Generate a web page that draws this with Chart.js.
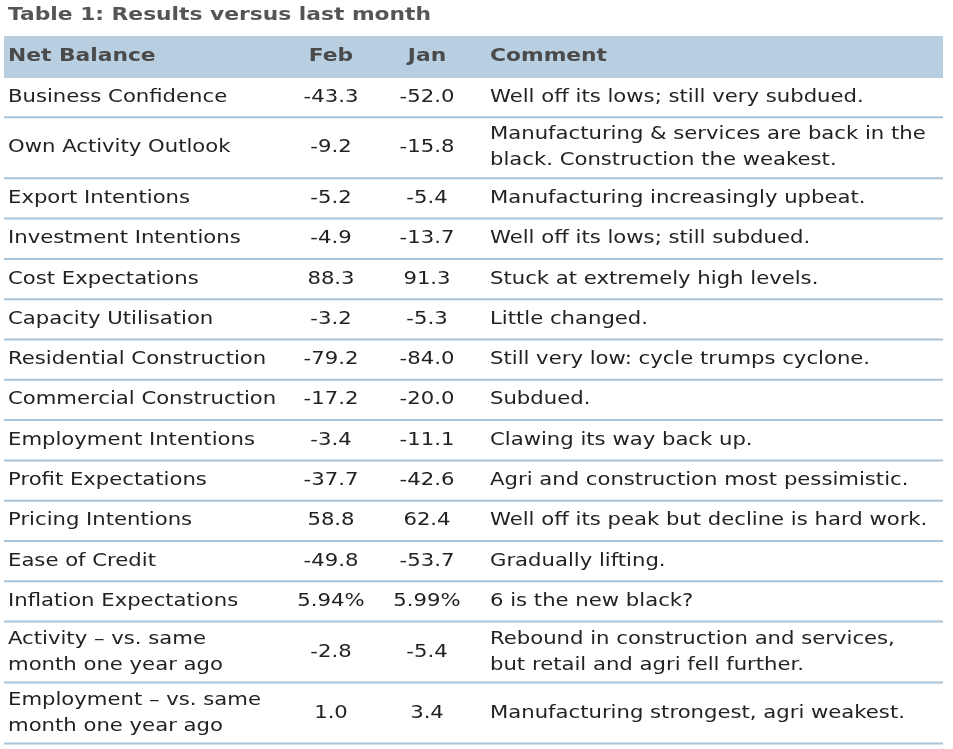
<!DOCTYPE html>
<html>
<head>
<meta charset="UTF-8">
<script src="https://cdn.jsdelivr.net/npm/chart.js"></script>
<style>
  html, body { margin: 0; padding: 0; background: #fff; }
  #wrap { width: 953px; height: 749px; }
</style>
</head>
<body>
<div id="wrap"><canvas id="tbl"></canvas></div>
<script>
const title = 'Table 1: Results versus last month';
const headers = ['Net Balance', 'Feb', 'Jan', 'Comment'];
const names = [
  ['Business Confidence'], ['Own Activity Outlook'], ['Export Intentions'],
  ['Investment Intentions'], ['Cost Expectations'], ['Capacity Utilisation'],
  ['Residential Construction'], ['Commercial Construction'], ['Employment Intentions'],
  ['Profit Expectations'], ['Pricing Intentions'], ['Ease of Credit'],
  ['Inflation Expectations'],
  ['Activity \u2013 vs. same', 'month one year ago'],
  ['Employment \u2013 vs. same', 'month one year ago']
];
const feb = ['-43.3', '-9.2', '-5.2', '-4.9', '88.3', '-3.2', '-79.2', '-17.2', '-3.4', '-37.7', '58.8', '-49.8', '5.94%', '-2.8', '1.0'];
const jan = ['-52.0', '-15.8', '-5.4', '-13.7', '91.3', '-5.3', '-84.0', '-20.0', '-11.1', '-42.6', '62.4', '-53.7', '5.99%', '-5.4', '3.4'];
const comments = [
  ['Well off its lows; still very subdued.'],
  ['Manufacturing & services are back in the', 'black. Construction the weakest.'],
  ['Manufacturing increasingly upbeat.'],
  ['Well off its lows; still subdued.'],
  ['Stuck at extremely high levels.'],
  ['Little changed.'],
  ['Still very low: cycle trumps cyclone.'],
  ['Subdued.'],
  ['Clawing its way back up.'],
  ['Agri and construction most pessimistic.'],
  ['Well off its peak but decline is hard work.'],
  ['Gradually lifting.'],
  ['6 is the new black?'],
  ['Rebound in construction and services,', 'but retail and agri fell further.'],
  ['Manufacturing strongest, agri weakest.']
];

const FONT = '"DejaVu Sans", Verdana, sans-serif';
const SX = 1.21; // widen glyphs to match Verdana-like reference

function txt(ctx, t, x, y, align) {
  const w = ctx.measureText(t).width * SX;
  let left = x;
  if (align === 'center') left = x - w / 2;
  ctx.save();
  ctx.translate(left, y);
  ctx.scale(SX, 1);
  ctx.textAlign = 'left';
  ctx.fillText(t, 0, 0);
  ctx.restore();
}

const tablePlugin = {
  id: 'tablePlugin',
  afterDraw(chart) {
    const ctx = chart.ctx;
    ctx.save();
    ctx.textBaseline = 'middle';
    ctx.fillStyle = '#555';
    ctx.font = 'bold 18px ' + FONT;
    txt(ctx, title, 8, 15, 'left');
    ctx.fillStyle = '#b8cfe1';
    ctx.fillRect(4, 36, 939, 42);
    ctx.fillStyle = '#4a4a4a';
    txt(ctx, headers[0], 8, 56, 'left');
    txt(ctx, headers[1], 331, 56, 'center');
    txt(ctx, headers[2], 427, 56, 'center');
    txt(ctx, headers[3], 490, 56, 'left');
    ctx.font = '17.5px ' + FONT;
    let y = 77;
    names.forEach((nm, i) => {
      const lines = Math.max(nm.length, comments[i].length);
      const h = lines > 1 ? 61 : 40.3;
      const cy = y + h / 2;
      ctx.fillStyle = '#222';
      const drawLines = (arr, x) => {
        arr.forEach((t, k) => {
          const off = arr.length > 1 ? (k === 0 ? -13 : 13) : 0;
          txt(ctx, t, x, cy + off, 'left');
        });
      };
      drawLines(nm, 8);
      txt(ctx, feb[i], 331, cy, 'center');
      txt(ctx, jan[i], 427, cy, 'center');
      drawLines(comments[i], 490);
      y += h;
      ctx.strokeStyle = '#a9c3d8';
      ctx.lineWidth = 2;
      ctx.beginPath();
      ctx.moveTo(4, y);
      ctx.lineTo(943, y);
      ctx.stroke();
    });
    ctx.restore();
  }
};

new Chart(document.getElementById('tbl'), {
  type: 'bar',
  data: { labels: names.map(n => n.join(' ')), datasets: [{ data: [] }] },
  options: {
    responsive: true,
    maintainAspectRatio: false,
    animation: false,
    plugins: { legend: { display: false }, tooltip: { enabled: false } },
    scales: { x: { display: false }, y: { display: false } }
  },
  plugins: [tablePlugin]
});
</script>
</body>
</html>
